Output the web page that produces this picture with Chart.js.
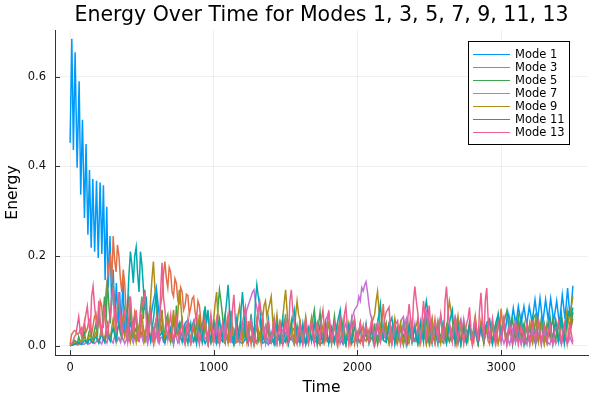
<!DOCTYPE html>
<html>
<head>
<meta charset="utf-8">
<script src="https://cdn.jsdelivr.net/npm/chart.js@4.4.1/dist/chart.umd.min.js"></script>
<style>
  html, body { margin: 0; padding: 0; background: #fff; }
</style>
</head>
<body>
<canvas id="energy-chart" width="600" height="400"></canvas>
<script>
// ---- data ----
var chartTitle = 'Energy Over Time for Modes 1, 3, 5, 7, 9, 11, 13';
var modeNames = ['Mode 1', 'Mode 3', 'Mode 5', 'Mode 7', 'Mode 9', 'Mode 11', 'Mode 13'];
var modeColors = ['#009AFA', '#E36F47', '#3EA44E', '#C371D2', '#AC8E18', '#00A9AD', '#ED5E93'];

var xTicks = [0, 1000, 2000, 3000];
var yTicks = [0, 0.2, 0.4, 0.6];
var yTickLabels = ['0.0', '0.2', '0.4', '0.6'];

// time grid: samples at 0, 20, ... 3500 and the in-between samples at 10, 30, ... 3490
var timeSteps = [];
for (var t = 0; t <= 3500; t += 20) { timeSteps.push(t); }
var halfSteps = [];
for (var h = 10; h < 3500; h += 20) { halfSteps.push(h); }

// Mode 1: fast early oscillation, quiet middle, growing tail
var modeOneEarlyTime = [0, 12, 23, 35, 49, 63, 74, 86, 100, 111, 124, 135, 147, 158, 171, 184, 196,
    209, 221, 232, 244, 255, 266, 278, 289, 300, 311, 322, 334, 345, 356, 368, 380];
var modeOneEarly = [0.453, 0.685, 0.437, 0.655, 0.397, 0.59, 0.337, 0.504, 0.285, 0.45, 0.248, 0.392, 0.219,
    0.372, 0.21, 0.368, 0.196, 0.364, 0.205, 0.358, 0.147, 0.31, 0.13, 0.245, 0.09, 0.17, 0.06, 0.14, 0.05,
    0.12, 0.04, 0.147, 0.03];
var modeOneMid = [
    0.03, 0.05, 0.02, 0.04, 0.015, 0.03, 0.01, 0.025, 0.06, 0.1,
    0.13, 0.07, 0.03, 0.015, 0.025, 0.01, 0.02, 0.035, 0.015, 0.03,
    0.05, 0.058, 0.035, 0.055, 0.02, 0.01, 0.025, 0.005, 0.02, 0.01,
    0.015, 0.005, 0.02, 0.01, 0.025, 0.008, 0.015, 0.003, 0.02, 0.01,
    0.005, 0.015, 0.008, 0.02, 0.004, 0.012, 0.018, 0.006, 0.01, 0.003,
    0.012, 0.006, 0.02, 0.01, 0.004, 0.015, 0.008, 0.018, 0.005, 0.012,
    0.008, 0.016, 0.004, 0.012, 0.02, 0.007, 0.014, 0.003, 0.01, 0.018,
    0.006, 0.012, 0.02, 0.008, 0.015, 0.004, 0.01, 0.018, 0.006, 0.012,
    0.02, 0.008, 0.015, 0.025, 0.01, 0.018, 0.006, 0.022, 0.012, 0.03,
    0.015, 0.035, 0.02, 0.04, 0.025, 0.042, 0.02, 0.038, 0.015, 0.03,
    0.01, 0.025, 0.015, 0.03, 0.008, 0.02, 0.012, 0.028, 0.01, 0.022,
    0.015, 0.03, 0.01, 0.025, 0.018, 0.035, 0.012, 0.028, 0.02, 0.04,
    0.025, 0.045, 0.02, 0.04, 0.03, 0.05, 0.025, 0.045, 0.035, 0.055
];
var modeOneLateTime = [3000, 3015, 3030, 3047, 3066, 3085, 3102, 3120, 3140, 3159, 3178, 3196, 3216, 3236,
    3254, 3271, 3290, 3310, 3328, 3345, 3366, 3387, 3406, 3426, 3445, 3463, 3481, 3500];
var modeOneLate = [0.03, 0.06, 0.035, 0.075, 0.042, 0.084, 0.045, 0.088, 0.05, 0.088, 0.046, 0.088, 0.052,
    0.103, 0.055, 0.106, 0.05, 0.103, 0.058, 0.106, 0.055, 0.1, 0.048, 0.114, 0.06, 0.129, 0.058, 0.134];

// Mode 3
var modeThree = [
    0.002, 0.03, 0.033, 0.027, 0.04, 0.052, 0.038, 0.06, 0.045, 0.072,
    0.05, 0.09, 0.07, 0.15, 0.205, 0.245, 0.165, 0.2, 0.12, 0.14,
    0.07, 0.1, 0.04, 0.06, 0.02, 0.045, 0.008, 0.05, 0.015, 0.04,
    0.03, 0.06, 0.11, 0.188, 0.13, 0.165, 0.11, 0.14, 0.095, 0.12,
    0.09, 0.112, 0.085, 0.11, 0.06, 0.09, 0.04, 0.05, 0.006, 0.035,
    0.015, 0.04, 0.004, 0.03, 0.005, 0.05, 0.02, 0.035, 0.008, 0.045,
    0.01, 0.03, 0.055, 0.003, 0.04, 0.005, 0.025, 0.06, 0.015, 0.03,
    0.005, 0.035, 0.02, 0.05, 0.004, 0.03, 0.045, 0.015, 0.04, 0.006,
    0.03, 0.005, 0.04, 0.02, 0.05, 0.012, 0.035, 0.003, 0.028, 0.045,
    0.015, 0.04, 0.005, 0.03, 0.055, 0.008, 0.01, 0.04, 0.025, 0.004,
    0.03, 0.006, 0.045, 0.01, 0.035, 0.06, 0.005, 0.05, 0.02, 0.093,
    0.02, 0.05, 0.004, 0.035, 0.015, 0.045, 0.005, 0.03, 0.008, 0.04,
    0.01, 0.04, 0.025, 0.055, 0.003, 0.03, 0.045, 0.005, 0.035, 0.012,
    0.05, 0.006, 0.04, 0.01, 0.03, 0.06, 0.004, 0.035, 0.005, 0.045,
    0.02, 0.04, 0.005, 0.055, 0.012, 0.035, 0.004, 0.05, 0.03, 0.06,
    0.083, 0.04, 0.008, 0.05, 0.015, 0.035, 0.06, 0.004, 0.04, 0.012,
    0.05, 0.006, 0.035, 0.06, 0.01, 0.04, 0.004, 0.045, 0.015, 0.055,
    0.02, 0.05, 0.008, 0.065, 0.03, 0.06
];
var modeThreeHalf = [
    0.025, 0.034, 0.026, 0.035, 0.02, 0.03, 0.055, 0.025, 0.065, 0.04,
    0.1, 0.04, 0.12, 0.18, 0.14, 0.19, 0.225, 0.15, 0.17, 0.08,
    0.11, 0.05, 0.075, 0.015, 0.05, 0.01, 0.035, 0.02, 0.045, 0.01,
    0.015, 0.09, 0.16, 0.15, 0.175, 0.12, 0.15, 0.1, 0.13, 0.08,
    0.115, 0.07, 0.105, 0.075, 0.1, 0.055, 0.07, 0.02, 0.04, 0.01,
    0.035, 0.01, 0.025, 0.008, 0.04, 0.012, 0.045, 0.006, 0.03, 0.015,
    0.04, 0.008, 0.02, 0.03, 0.01, 0.035, 0.004, 0.02, 0.045, 0.006,
    0.02, 0.006, 0.04, 0.012, 0.025, 0.008, 0.02, 0.035, 0.01, 0.03,
    0.008, 0.025, 0.01, 0.038, 0.015, 0.03, 0.006, 0.02, 0.01, 0.015,
    0.03, 0.01, 0.025, 0.008, 0.02, 0.035, 0.025, 0.006, 0.045, 0.02,
    0.01, 0.03, 0.015, 0.025, 0.008, 0.02, 0.03, 0.01, 0.055, 0.04,
    0.035, 0.01, 0.025, 0.006, 0.03, 0.012, 0.02, 0.004, 0.025, 0.01,
    0.025, 0.006, 0.04, 0.02, 0.015, 0.01, 0.02, 0.03, 0.008, 0.04,
    0.02, 0.025, 0.012, 0.035, 0.008, 0.02, 0.03, 0.01, 0.025, 0.015,
    0.008, 0.02, 0.03, 0.02, 0.04, 0.01, 0.025, 0.015, 0.01, 0.035,
    0.05, 0.015, 0.03, 0.025, 0.04, 0.01, 0.02, 0.025, 0.006, 0.03,
    0.02, 0.025, 0.01, 0.03, 0.025, 0.012, 0.03, 0.01, 0.035, 0.025,
    0.035, 0.02, 0.04, 0.015, 0.045
];

// Mode 5
var modeFive = [
    0.0, 0.005, 0.01, 0.02, 0.006, 0.03, 0.012, 0.04, 0.02, 0.05,
    0.088, 0.03, 0.11, 0.147, 0.05, 0.14, 0.04, 0.1, 0.02, 0.08,
    0.05, 0.09, 0.015, 0.07, 0.03, 0.11, 0.125, 0.04, 0.09, 0.01,
    0.06, 0.02, 0.08, 0.035, 0.07, 0.008, 0.055, 0.09, 0.015, 0.06,
    0.025, 0.05, 0.005, 0.04, 0.06, 0.012, 0.045, 0.07, 0.008, 0.05,
    0.06, 0.02, 0.125, 0.07, 0.01, 0.065, 0.078, 0.006, 0.05, 0.015,
    0.04, 0.07, 0.01, 0.06, 0.004, 0.05, 0.02, 0.065, 0.008, 0.045,
    0.015, 0.06, 0.006, 0.05, 0.02, 0.07, 0.01, 0.055, 0.004, 0.045,
    0.058, 0.012, 0.05, 0.005, 0.045, 0.08, 0.03, 0.075, 0.01, 0.03,
    0.05, 0.006, 0.066, 0.02, 0.008, 0.055, 0.004, 0.045, 0.06, 0.058,
    0.012, 0.05, 0.005, 0.04, 0.01, 0.035, 0.05, 0.004, 0.045, 0.015,
    0.05, 0.006, 0.04, 0.06, 0.01, 0.045, 0.003, 0.035, 0.05, 0.008,
    0.04, 0.005, 0.05, 0.015, 0.06, 0.004, 0.045, 0.01, 0.055, 0.02,
    0.006, 0.045, 0.01, 0.04, 0.06, 0.005, 0.05, 0.012, 0.035, 0.05,
    0.01, 0.05, 0.004, 0.045, 0.008, 0.04, 0.015, 0.055, 0.01, 0.07,
    0.02, 0.05, 0.078, 0.03, 0.06, 0.01, 0.065, 0.02, 0.05, 0.005,
    0.035, 0.055, 0.07, 0.015, 0.06, 0.008, 0.05, 0.02, 0.06, 0.01,
    0.05, 0.006, 0.045, 0.06, 0.08, 0.075
];
var modeFiveHalf = [
    0.003, 0.012, 0.004, 0.01, 0.022, 0.008, 0.028, 0.015, 0.035, 0.02,
    0.04, 0.07, 0.05, 0.09, 0.11, 0.07, 0.085, 0.045, 0.06, 0.03,
    0.02, 0.04, 0.06, 0.02, 0.08, 0.06, 0.08, 0.07, 0.03, 0.045,
    0.015, 0.05, 0.02, 0.06, 0.02, 0.04, 0.02, 0.04, 0.05, 0.02,
    0.045, 0.012, 0.03, 0.015, 0.02, 0.035, 0.01, 0.03, 0.04, 0.02,
    0.03, 0.09, 0.1, 0.035, 0.04, 0.02, 0.03, 0.035, 0.01, 0.04,
    0.015, 0.03, 0.04, 0.02, 0.03, 0.01, 0.045, 0.025, 0.03, 0.01,
    0.035, 0.02, 0.03, 0.01, 0.045, 0.025, 0.03, 0.015, 0.025, 0.02,
    0.025, 0.03, 0.02, 0.03, 0.06, 0.045, 0.05, 0.035, 0.02, 0.05,
    0.02, 0.04, 0.035, 0.01, 0.03, 0.02, 0.025, 0.03, 0.035, 0.025,
    0.03, 0.02, 0.025, 0.015, 0.025, 0.01, 0.02, 0.03, 0.02, 0.035,
    0.02, 0.025, 0.015, 0.03, 0.025, 0.02, 0.02, 0.01, 0.025, 0.03,
    0.015, 0.03, 0.02, 0.04, 0.02, 0.03, 0.015, 0.035, 0.03, 0.01,
    0.03, 0.02, 0.025, 0.015, 0.03, 0.025, 0.02, 0.03, 0.015, 0.025,
    0.035, 0.015, 0.03, 0.02, 0.025, 0.02, 0.035, 0.02, 0.04, 0.045,
    0.035, 0.065, 0.05, 0.045, 0.03, 0.04, 0.035, 0.04, 0.02, 0.03,
    0.02, 0.065, 0.04, 0.035, 0.03, 0.03, 0.035, 0.045, 0.03, 0.035,
    0.02, 0.03, 0.025, 0.07, 0.05
];

// Mode 7
var modeSeven = [
    0.0, 0.002, 0.005, 0.003, 0.008, 0.004, 0.01, 0.006, 0.012, 0.008,
    0.015, 0.004, 0.02, 0.012, 0.025, 0.006, 0.03, 0.018, 0.022, 0.005,
    0.02, 0.03, 0.006, 0.025, 0.01, 0.02, 0.03, 0.004, 0.025, 0.018,
    0.03, 0.005, 0.02, 0.01, 0.025, 0.035, 0.006, 0.02, 0.01, 0.028,
    0.004, 0.03, 0.02, 0.008, 0.025, 0.04, 0.006, 0.015, 0.03, 0.005,
    0.02, 0.035, 0.006, 0.03, 0.045, 0.01, 0.04, 0.008, 0.05, 0.015,
    0.04, 0.06, 0.09, 0.11, 0.125, 0.085, 0.05, 0.012, 0.045, 0.006,
    0.03, 0.005, 0.04, 0.012, 0.035, 0.05, 0.008, 0.04, 0.004, 0.03,
    0.01, 0.035, 0.005, 0.04, 0.015, 0.05, 0.008, 0.045, 0.012, 0.06,
    0.075, 0.02, 0.008, 0.045, 0.006, 0.035, 0.05, 0.01, 0.06, 0.08,
    0.09, 0.1, 0.122, 0.143, 0.093, 0.06, 0.02, 0.05, 0.008, 0.04,
    0.01, 0.045, 0.006, 0.04, 0.015, 0.05, 0.065, 0.06, 0.02, 0.045,
    0.05, 0.012, 0.055, 0.02, 0.075, 0.03, 0.06, 0.008, 0.05, 0.01,
    0.04, 0.006, 0.05, 0.02, 0.065, 0.045, 0.06, 0.06, 0.012, 0.045,
    0.008, 0.04, 0.005, 0.035, 0.01, 0.045, 0.015, 0.004, 0.04, 0.008,
    0.03, 0.005, 0.025, 0.003, 0.035, 0.008, 0.03, 0.004, 0.025, 0.006,
    0.02, 0.03, 0.004, 0.025, 0.006, 0.03, 0.01, 0.003, 0.025, 0.005,
    0.02, 0.004, 0.025, 0.006, 0.02, 0.003
];
var modeSevenHalf = [
    0.001, 0.004, 0.002, 0.006, 0.003, 0.008, 0.004, 0.01, 0.005, 0.012,
    0.008, 0.015, 0.006, 0.02, 0.01, 0.022, 0.012, 0.008, 0.014, 0.012,
    0.01, 0.015, 0.02, 0.012, 0.025, 0.008, 0.018, 0.02, 0.01, 0.025,
    0.012, 0.018, 0.008, 0.02, 0.015, 0.012, 0.025, 0.006, 0.022, 0.01,
    0.02, 0.012, 0.01, 0.018, 0.012, 0.02, 0.025, 0.02, 0.012, 0.015,
    0.01, 0.015, 0.025, 0.02, 0.025, 0.03, 0.02, 0.035, 0.025, 0.03,
    0.05, 0.08, 0.1, 0.12, 0.1, 0.065, 0.03, 0.035, 0.02, 0.025,
    0.015, 0.025, 0.02, 0.025, 0.03, 0.02, 0.025, 0.015, 0.02, 0.015,
    0.02, 0.015, 0.025, 0.02, 0.035, 0.025, 0.03, 0.025, 0.04, 0.065,
    0.045, 0.015, 0.03, 0.02, 0.02, 0.04, 0.03, 0.035, 0.07, 0.085,
    0.11, 0.13, 0.135, 0.12, 0.07, 0.04, 0.035, 0.025, 0.02, 0.02,
    0.025, 0.02, 0.025, 0.03, 0.03, 0.06, 0.045, 0.04, 0.03, 0.03,
    0.025, 0.035, 0.03, 0.06, 0.05, 0.045, 0.03, 0.03, 0.025, 0.02,
    0.02, 0.03, 0.035, 0.04, 0.055, 0.05, 0.035, 0.04, 0.025, 0.02,
    0.02, 0.02, 0.02, 0.02, 0.025, 0.03, 0.01, 0.02, 0.02, 0.015,
    0.015, 0.015, 0.012, 0.02, 0.02, 0.018, 0.015, 0.012, 0.015, 0.012,
    0.012, 0.015, 0.012, 0.015, 0.02, 0.02, 0.006, 0.015, 0.012, 0.01,
    0.012, 0.015, 0.012, 0.01, 0.01
];

// Mode 9
var modeNine = [
    0.0, 0.003, 0.008, 0.005, 0.012, 0.02, 0.006, 0.025, 0.01, 0.03,
    0.008, 0.04, 0.012, 0.05, 0.015, 0.06, 0.01, 0.05, 0.07, 0.02,
    0.06, 0.01, 0.055, 0.008, 0.045, 0.07, 0.015, 0.065, 0.1, 0.188,
    0.09, 0.02, 0.07, 0.012, 0.06, 0.015, 0.08, 0.03, 0.125, 0.05,
    0.04, 0.06, 0.008, 0.05, 0.012, 0.07, 0.01, 0.055, 0.005, 0.045,
    0.06, 0.12, 0.02, 0.04, 0.07, 0.008, 0.06, 0.015, 0.04, 0.088,
    0.01, 0.06, 0.012, 0.05, 0.006, 0.06, 0.015, 0.06, 0.1, 0.08,
    0.11, 0.02, 0.07, 0.01, 0.06, 0.125, 0.03, 0.05, 0.01, 0.1,
    0.058, 0.01, 0.065, 0.015, 0.062, 0.008, 0.05, 0.006, 0.045, 0.012,
    0.05, 0.008, 0.045, 0.005, 0.07, 0.015, 0.004, 0.05, 0.01, 0.045,
    0.008, 0.05, 0.006, 0.04, 0.012, 0.05, 0.07, 0.121, 0.03, 0.04,
    0.05, 0.006, 0.04, 0.06, 0.008, 0.05, 0.004, 0.045, 0.01, 0.055,
    0.04, 0.06, 0.008, 0.05, 0.005, 0.045, 0.06, 0.01, 0.05, 0.006,
    0.05, 0.012, 0.1, 0.06, 0.01, 0.067, 0.006, 0.05, 0.008, 0.045,
    0.012, 0.067, 0.006, 0.05, 0.004, 0.04, 0.055, 0.01, 0.045, 0.005,
    0.04, 0.06, 0.008, 0.05, 0.004, 0.045, 0.012, 0.055, 0.006, 0.04,
    0.05, 0.01, 0.06, 0.008, 0.05, 0.004, 0.045, 0.06, 0.012, 0.055,
    0.015, 0.065, 0.03, 0.08, 0.04, 0.11
];
var modeNineHalf = [
    0.002, 0.006, 0.004, 0.01, 0.015, 0.01, 0.018, 0.016, 0.022, 0.015,
    0.025, 0.02, 0.035, 0.025, 0.04, 0.03, 0.035, 0.03, 0.035, 0.045,
    0.03, 0.035, 0.025, 0.03, 0.03, 0.04, 0.045, 0.035, 0.15, 0.13,
    0.045, 0.05, 0.035, 0.04, 0.03, 0.05, 0.045, 0.07, 0.1, 0.025,
    0.02, 0.03, 0.035, 0.025, 0.04, 0.03, 0.035, 0.025, 0.03, 0.02,
    0.095, 0.06, 0.03, 0.055, 0.03, 0.04, 0.035, 0.025, 0.07, 0.05,
    0.035, 0.03, 0.035, 0.025, 0.035, 0.03, 0.04, 0.09, 0.065, 0.095,
    0.06, 0.045, 0.035, 0.04, 0.095, 0.08, 0.04, 0.025, 0.07, 0.07,
    0.03, 0.04, 0.035, 0.04, 0.03, 0.035, 0.025, 0.03, 0.025, 0.035,
    0.03, 0.025, 0.03, 0.04, 0.035, 0.02, 0.03, 0.025, 0.03, 0.025,
    0.03, 0.025, 0.03, 0.025, 0.035, 0.06, 0.1, 0.08, 0.035, 0.045,
    0.025, 0.03, 0.035, 0.03, 0.03, 0.025, 0.025, 0.03, 0.035, 0.03,
    0.045, 0.03, 0.035, 0.03, 0.025, 0.035, 0.03, 0.035, 0.025, 0.03,
    0.035, 0.07, 0.08, 0.03, 0.045, 0.035, 0.03, 0.025, 0.03, 0.03,
    0.045, 0.035, 0.03, 0.025, 0.025, 0.045, 0.03, 0.025, 0.02, 0.025,
    0.045, 0.03, 0.025, 0.03, 0.025, 0.025, 0.035, 0.03, 0.025, 0.03,
    0.025, 0.035, 0.03, 0.03, 0.025, 0.025, 0.05, 0.03, 0.035, 0.03,
    0.04, 0.045, 0.06, 0.055, 0.09
];

// Mode 11
var modeEleven = [
    0.0, 0.002, 0.004, 0.008, 0.003, 0.012, 0.005, 0.015, 0.006, 0.02,
    0.006, 0.025, 0.008, 0.03, 0.01, 0.04, 0.012, 0.05, 0.02, 0.07,
    0.09, 0.21, 0.14, 0.22, 0.12, 0.18, 0.08, 0.05, 0.01, 0.06,
    0.117, 0.02, 0.03, 0.006, 0.025, 0.04, 0.004, 0.035, 0.05, 0.008,
    0.04, 0.005, 0.05, 0.01, 0.004, 0.045, 0.012, 0.088, 0.08, 0.01,
    0.05, 0.008, 0.06, 0.015, 0.07, 0.136, 0.02, 0.006, 0.06, 0.012,
    0.12, 0.02, 0.005, 0.07, 0.01, 0.136, 0.088, 0.012, 0.006, 0.06,
    0.015, 0.004, 0.05, 0.008, 0.06, 0.01, 0.004, 0.045, 0.08, 0.012,
    0.006, 0.05, 0.004, 0.04, 0.01, 0.055, 0.003, 0.045, 0.008, 0.05,
    0.005, 0.04, 0.008, 0.05, 0.08, 0.01, 0.004, 0.045, 0.006, 0.05,
    0.004, 0.04, 0.008, 0.05, 0.006, 0.045, 0.003, 0.05, 0.093, 0.012,
    0.008, 0.05, 0.063, 0.004, 0.04, 0.006, 0.05, 0.003, 0.045, 0.01,
    0.04, 0.005, 0.05, 0.008, 0.1, 0.05, 0.006, 0.045, 0.004, 0.067,
    0.04, 0.006, 0.05, 0.08, 0.005, 0.045, 0.003, 0.04, 0.008, 0.05,
    0.004, 0.045, 0.006, 0.04, 0.01, 0.05, 0.06, 0.005, 0.045, 0.07,
    0.012, 0.055, 0.006, 0.06, 0.004, 0.05, 0.01, 0.065, 0.005, 0.05,
    0.008, 0.06, 0.004, 0.055, 0.006, 0.05, 0.012, 0.065, 0.005, 0.055,
    0.01, 0.07, 0.006, 0.06, 0.067, 0.085
];
var modeElevenHalf = [
    0.001, 0.003, 0.006, 0.004, 0.008, 0.01, 0.012, 0.008, 0.016, 0.012,
    0.018, 0.015, 0.02, 0.018, 0.028, 0.025, 0.035, 0.03, 0.05, 0.04,
    0.16, 0.18, 0.2, 0.16, 0.21, 0.13, 0.11, 0.03, 0.035, 0.09,
    0.06, 0.025, 0.015, 0.02, 0.03, 0.02, 0.025, 0.04, 0.02, 0.025,
    0.02, 0.03, 0.025, 0.02, 0.03, 0.025, 0.06, 0.05, 0.03, 0.035,
    0.025, 0.04, 0.03, 0.045, 0.1, 0.08, 0.02, 0.035, 0.03, 0.08,
    0.07, 0.015, 0.04, 0.035, 0.1, 0.11, 0.04, 0.02, 0.035, 0.03,
    0.015, 0.03, 0.025, 0.035, 0.03, 0.02, 0.03, 0.06, 0.045, 0.03,
    0.025, 0.025, 0.025, 0.03, 0.03, 0.025, 0.03, 0.02, 0.03, 0.025,
    0.025, 0.02, 0.03, 0.065, 0.045, 0.02, 0.025, 0.02, 0.03, 0.025,
    0.025, 0.02, 0.03, 0.025, 0.025, 0.02, 0.03, 0.07, 0.05, 0.01,
    0.03, 0.055, 0.035, 0.025, 0.02, 0.03, 0.025, 0.025, 0.03, 0.025,
    0.02, 0.03, 0.025, 0.08, 0.075, 0.025, 0.03, 0.02, 0.04, 0.05,
    0.02, 0.03, 0.065, 0.04, 0.025, 0.02, 0.025, 0.02, 0.03, 0.025,
    0.025, 0.02, 0.025, 0.025, 0.035, 0.055, 0.03, 0.025, 0.06, 0.045,
    0.035, 0.03, 0.035, 0.03, 0.03, 0.03, 0.04, 0.035, 0.03, 0.03,
    0.035, 0.03, 0.035, 0.03, 0.03, 0.035, 0.04, 0.03, 0.035, 0.03,
    0.045, 0.035, 0.04, 0.075, 0.07
];

// Mode 13
var modeThirteen = [
    0.0, 0.01, 0.025, 0.065, 0.02, 0.05, 0.088, 0.03, 0.133, 0.06,
    0.1, 0.02, 0.09, 0.015, 0.07, 0.13, 0.03, 0.12, 0.02, 0.08,
    0.01, 0.11, 0.03, 0.08, 0.008, 0.1, 0.12, 0.02, 0.07, 0.006,
    0.06, 0.01, 0.185, 0.08, 0.015, 0.07, 0.006, 0.06, 0.012, 0.05,
    0.005, 0.06, 0.01, 0.05, 0.07, 0.004, 0.04, 0.06, 0.008, 0.07,
    0.01, 0.06, 0.005, 0.05, 0.012, 0.07, 0.006, 0.114, 0.02, 0.008,
    0.05, 0.086, 0.01, 0.06, 0.005, 0.05, 0.1, 0.063, 0.008, 0.05,
    0.012, 0.057, 0.005, 0.05, 0.004, 0.06, 0.015, 0.125, 0.05, 0.006,
    0.05, 0.004, 0.06, 0.01, 0.055, 0.006, 0.05, 0.012, 0.08, 0.01,
    0.078, 0.006, 0.05, 0.004, 0.06, 0.012, 0.088, 0.005, 0.05, 0.06,
    0.008, 0.05, 0.004, 0.045, 0.01, 0.06, 0.005, 0.05, 0.012, 0.04,
    0.075, 0.086, 0.006, 0.05, 0.056, 0.004, 0.045, 0.01, 0.093, 0.008,
    0.132, 0.075, 0.006, 0.1, 0.01, 0.09, 0.004, 0.06, 0.012, 0.07,
    0.005, 0.132, 0.05, 0.008, 0.06, 0.012, 0.05, 0.004, 0.05, 0.086,
    0.006, 0.06, 0.01, 0.118, 0.008, 0.129, 0.012, 0.06, 0.005, 0.05,
    0.01, 0.06, 0.004, 0.05, 0.008, 0.056, 0.003, 0.045, 0.01, 0.05,
    0.004, 0.05, 0.008, 0.055, 0.003, 0.045, 0.01, 0.05, 0.005, 0.04,
    0.055, 0.006, 0.05, 0.004, 0.045, 0.008
];
var modeThirteenHalf = [
    0.004, 0.02, 0.045, 0.035, 0.04, 0.07, 0.05, 0.11, 0.09, 0.04,
    0.05, 0.06, 0.04, 0.05, 0.11, 0.07, 0.09, 0.06, 0.05, 0.03,
    0.07, 0.06, 0.05, 0.035, 0.06, 0.09, 0.06, 0.045, 0.03, 0.04,
    0.035, 0.12, 0.11, 0.04, 0.05, 0.03, 0.035, 0.03, 0.035, 0.025,
    0.035, 0.03, 0.035, 0.06, 0.03, 0.025, 0.05, 0.03, 0.045, 0.035,
    0.04, 0.03, 0.035, 0.025, 0.045, 0.04, 0.08, 0.06, 0.01, 0.03,
    0.07, 0.035, 0.04, 0.03, 0.03, 0.08, 0.075, 0.03, 0.035, 0.025,
    0.04, 0.025, 0.03, 0.025, 0.035, 0.03, 0.1, 0.08, 0.025, 0.035,
    0.025, 0.035, 0.03, 0.04, 0.025, 0.035, 0.03, 0.06, 0.04, 0.05,
    0.04, 0.03, 0.025, 0.035, 0.03, 0.07, 0.04, 0.03, 0.04, 0.03,
    0.03, 0.025, 0.03, 0.025, 0.04, 0.03, 0.03, 0.035, 0.03, 0.06,
    0.08, 0.04, 0.03, 0.05, 0.025, 0.03, 0.025, 0.06, 0.06, 0.1,
    0.1, 0.035, 0.06, 0.06, 0.05, 0.04, 0.035, 0.035, 0.045, 0.03,
    0.1, 0.08, 0.025, 0.04, 0.03, 0.035, 0.025, 0.03, 0.06, 0.04,
    0.035, 0.035, 0.08, 0.06, 0.1, 0.06, 0.035, 0.03, 0.03, 0.03,
    0.035, 0.03, 0.03, 0.025, 0.035, 0.025, 0.025, 0.03, 0.03, 0.025,
    0.03, 0.025, 0.035, 0.03, 0.025, 0.03, 0.03, 0.025, 0.025, 0.04,
    0.03, 0.03, 0.025, 0.03, 0.025
];

// ---- build the chart ----
var toPoints = function (times, values) {
    return values.map(function (v, i) { return { x: times[i], y: v }; });
};

// merge the main samples with the in-between samples, in time order
var mergeSamples = function (main, half) {
    var pts = [];
    main.forEach(function (v, i) {
        pts.push({ x: timeSteps[i], y: v });
        if (i < half.length) {
            pts.push({ x: halfSteps[i], y: half[i] });
        }
    });
    return pts;
};

var modeOnePoints = toPoints(
    modeOneEarlyTime.concat(timeSteps.slice(20, 150), modeOneLateTime),
    modeOneEarly.concat(modeOneMid, modeOneLate)
);

var seriesPoints = [
    modeOnePoints,
    mergeSamples(modeThree, modeThreeHalf),
    mergeSamples(modeFive, modeFiveHalf),
    mergeSamples(modeSeven, modeSevenHalf),
    mergeSamples(modeNine, modeNineHalf),
    mergeSamples(modeEleven, modeElevenHalf),
    mergeSamples(modeThirteen, modeThirteenHalf)
];

var fontFamily = '"DejaVu Sans", sans-serif';

var datasets = modeNames.map(function (name, i) {
    return {
        label: name,
        data: seriesPoints[i],
        borderColor: modeColors[i],
        backgroundColor: modeColors[i],
        borderWidth: 1.5,
        pointRadius: 0,
        tension: 0,
        fill: false,
        order: modeNames.length - i   // Mode 13 painted last, on top
    };
});

var decorations = {
    id: 'decorations',
    afterDraw: function (chart) {
        var ctx = chart.ctx;
        var area = chart.chartArea;
        var x = chart.scales.x;
        var y = chart.scales.y;
        var midX = (area.left + area.right) / 2;

        ctx.save();

        // tick marks point into the plot
        ctx.strokeStyle = '#333';
        ctx.lineWidth = 1;
        xTicks.forEach(function (v) {
            var px = Math.round(x.getPixelForValue(v)) + 0.5;
            ctx.beginPath();
            ctx.moveTo(px, area.bottom);
            ctx.lineTo(px, area.bottom - 5);
            ctx.stroke();
        });
        yTicks.forEach(function (v) {
            var py = Math.round(y.getPixelForValue(v)) + 0.5;
            ctx.beginPath();
            ctx.moveTo(area.left, py);
            ctx.lineTo(area.left + 5, py);
            ctx.stroke();
        });

        // titles
        ctx.fillStyle = '#000';
        ctx.textAlign = 'center';
        ctx.textBaseline = 'alphabetic';
        ctx.font = '20.5px ' + fontFamily;
        ctx.fillText(chartTitle, midX, 21);

        ctx.font = '15.5px ' + fontFamily;
        ctx.fillText('Time', midX, 392);

        ctx.save();
        ctx.translate(17, (area.top + area.bottom) / 2);
        ctx.rotate(-Math.PI / 2);
        ctx.fillText('Energy', 0, 0);
        ctx.restore();

        // legend
        ctx.fillStyle = '#fff';
        ctx.fillRect(468.5, 41.5, 101, 103);
        ctx.strokeStyle = '#000';
        ctx.strokeRect(468.5, 41.5, 101, 103);

        ctx.font = '11.5px ' + fontFamily;
        ctx.textAlign = 'left';
        ctx.textBaseline = 'middle';
        modeNames.forEach(function (name, i) {
            var rowY = 54.5 + i * 13;
            ctx.strokeStyle = modeColors[i];
            ctx.lineWidth = 1.2;
            ctx.beginPath();
            ctx.moveTo(473, rowY);
            ctx.lineTo(510, rowY);
            ctx.stroke();
            ctx.fillStyle = '#000';
            ctx.fillText(name, 515, rowY + 0.5);
        });

        ctx.restore();
    }
};

var tickFont = { family: fontFamily, size: 11.5 };

new Chart(document.getElementById('energy-chart'), {
    type: 'line',
    data: { datasets: datasets },
    options: {
        responsive: false,
        animation: false,
        devicePixelRatio: 1,
        layout: { padding: { left: 0, right: 12, top: 30, bottom: 0 } },
        plugins: {
            legend: { display: false },
            title: { display: false },
            tooltip: { enabled: false }
        },
        scales: {
            x: {
                type: 'linear',
                min: -105,
                max: 3605,
                afterBuildTicks: function (scale) {
                    scale.ticks = xTicks.map(function (v) { return { value: v }; });
                },
                afterFit: function (scale) { scale.height = 45; },
                grid: { color: 'rgba(0,0,0,0.06)', lineWidth: 1, drawTicks: false },
                border: { display: true, color: '#333', width: 1 },
                ticks: {
                    padding: 6,
                    color: '#111',
                    font: tickFont,
                    maxRotation: 0,
                    autoSkip: false,
                    callback: function (v) { return String(v); }
                }
            },
            y: {
                type: 'linear',
                min: -0.0205,
                max: 0.7045,
                afterBuildTicks: function (scale) {
                    scale.ticks = yTicks.map(function (v) { return { value: v }; });
                },
                afterFit: function (scale) { scale.width = 55; },
                grid: { color: 'rgba(0,0,0,0.06)', lineWidth: 1, drawTicks: false },
                border: { display: true, color: '#333', width: 1 },
                ticks: {
                    padding: 9,
                    color: '#111',
                    font: tickFont,
                    autoSkip: false,
                    callback: function (v) {
                        var k = yTicks.indexOf(v);
                        return k >= 0 ? yTickLabels[k] : '';
                    }
                }
            }
        }
    },
    plugins: [decorations]
});
</script>
</body>
</html>
